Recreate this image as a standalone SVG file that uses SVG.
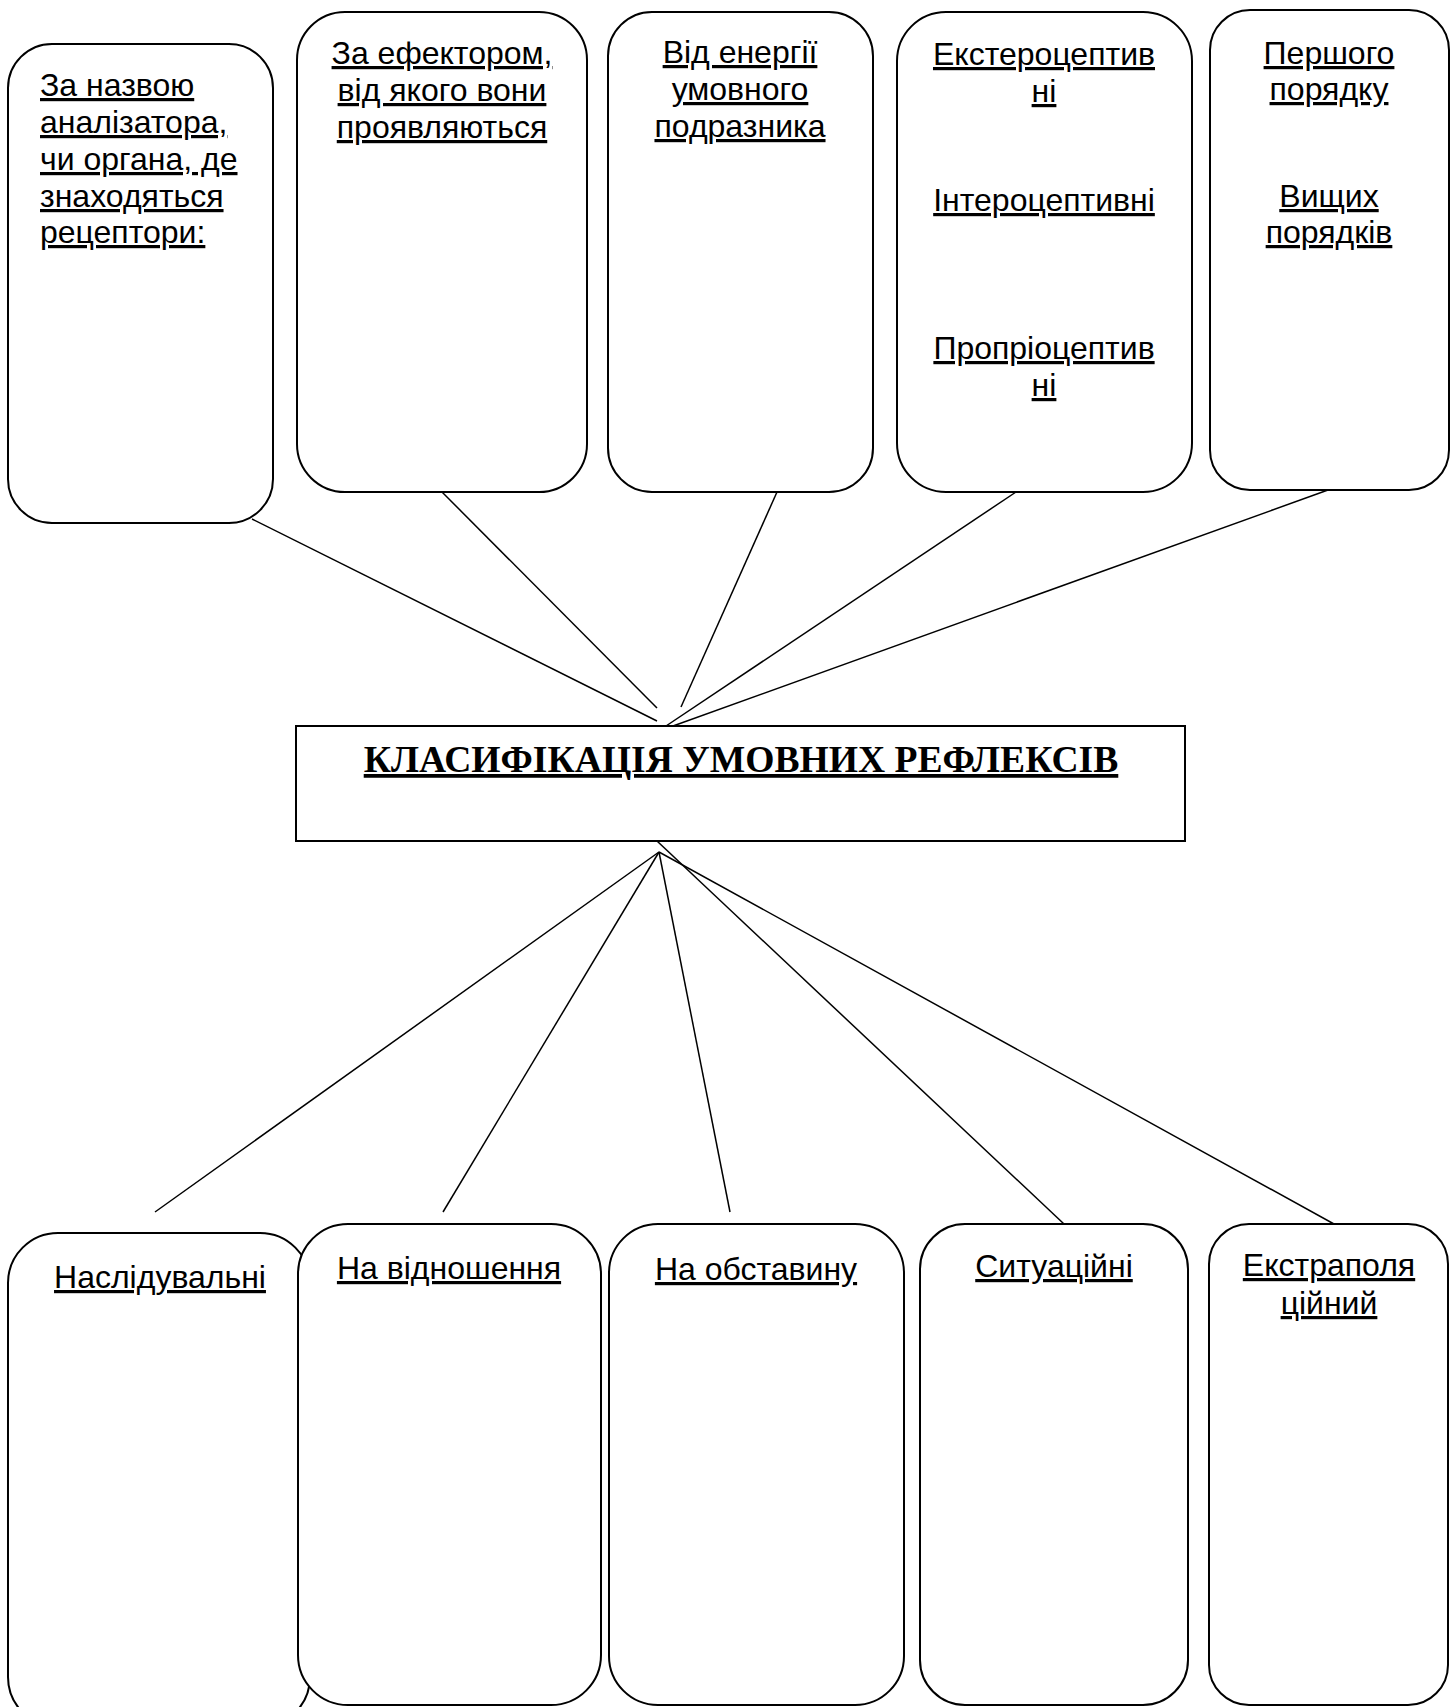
<svg xmlns="http://www.w3.org/2000/svg" width="1456" height="1707" viewBox="0 0 1456 1707">
<style>
.box{fill:#fff;stroke:#000;stroke-width:2}
.t{font-family:"Liberation Sans",Arial,sans-serif;font-size:32px;fill:#000;text-decoration:underline}
.c{text-anchor:middle}
.title{font-family:"Liberation Serif","Times New Roman",serif;font-size:37.6px;font-weight:bold;fill:#000;text-decoration:underline;text-anchor:middle}
.ln{stroke:#000;stroke-width:1.5;fill:none}
</style>
<rect width="1456" height="1707" fill="#fff"/>
<g id="connectors">
<line class="ln" x1="252" y1="519" x2="657" y2="721"/>
<line class="ln" x1="442" y1="492" x2="657" y2="708"/>
<line class="ln" x1="777" y1="492" x2="681" y2="707"/>
<line class="ln" x1="1016" y1="492" x2="666" y2="726"/>
<line class="ln" x1="1328" y1="490" x2="673" y2="726"/>
<line class="ln" x1="659" y1="852" x2="155" y2="1212"/>
<line class="ln" x1="659" y1="852" x2="443" y2="1212"/>
<line class="ln" x1="659" y1="852" x2="730" y2="1212"/>
<line class="ln" x1="657" y1="841" x2="1064" y2="1224"/>
<line class="ln" x1="659" y1="852" x2="1334" y2="1224"/>
</g>
<g id="b1">
<rect class="box" x="8" y="44" width="265" height="479" rx="44"/>
<text class="t" x="40" y="96">За назвою</text>
<text class="t" x="40" y="133">аналізатора,</text>
<text class="t" x="40" y="170">чи органа, де</text>
<text class="t" x="40" y="207">знаходяться</text>
<text class="t" x="40" y="243">рецептори:</text>
</g>
<g id="b2">
<rect class="box" x="297" y="12" width="290" height="480" rx="48"/>
<text class="t c" x="442" y="64">За ефектором,</text>
<text class="t c" x="442" y="101">від якого вони</text>
<text class="t c" x="442" y="138">проявляються</text>
</g>
<g id="b3">
<rect class="box" x="608" y="12" width="265" height="480" rx="44"/>
<text class="t c" x="740" y="63">Від енергії</text>
<text class="t c" x="740" y="100">умовного</text>
<text class="t c" x="740" y="137">подразника</text>
</g>
<g id="b4">
<rect class="box" x="897" y="12" width="295" height="480" rx="49"/>
<text class="t c" x="1044" y="65">Екстероцептив</text>
<text class="t c" x="1044" y="102">ні</text>
<text class="t c" x="1044" y="211">Інтероцептивні</text>
<text class="t c" x="1044" y="359">Пропріоцептив</text>
<text class="t c" x="1044" y="396">ні</text>
</g>
<g id="b5">
<rect class="box" x="1210" y="10" width="239" height="480" rx="40"/>
<text class="t c" x="1329" y="64">Першого</text>
<text class="t c" x="1329" y="100">порядку</text>
<text class="t c" x="1329" y="207">Вищих</text>
<text class="t c" x="1329" y="243">порядків</text>
</g>
<g id="center">
<rect x="296" y="726" width="889" height="115" fill="#fff" stroke="#000" stroke-width="2"/>
<text class="title" x="741" y="772">КЛАСИФІКАЦІЯ УМОВНИХ РЕФЛЕКСІВ</text>
</g>
<g id="c1">
<rect class="box" x="8" y="1233" width="302" height="494" rx="50"/>
<text class="t c" x="160" y="1288">Наслідувальні</text>
</g>
<g id="c2">
<rect class="box" x="298" y="1224" width="303" height="481" rx="50"/>
<text class="t c" x="449" y="1279">На відношення</text>
</g>
<g id="c3">
<rect class="box" x="609" y="1224" width="295" height="481" rx="49"/>
<text class="t c" x="756" y="1280">На обставину</text>
</g>
<g id="c4">
<rect class="box" x="920" y="1224" width="268" height="481" rx="45"/>
<text class="t c" x="1054" y="1277">Ситуаційні</text>
</g>
<g id="c5">
<rect class="box" x="1209" y="1224" width="239" height="481" rx="40"/>
<text class="t c" x="1329" y="1276">Екстраполя</text>
<text class="t c" x="1329" y="1314">ційний</text>
</g>
</svg>
